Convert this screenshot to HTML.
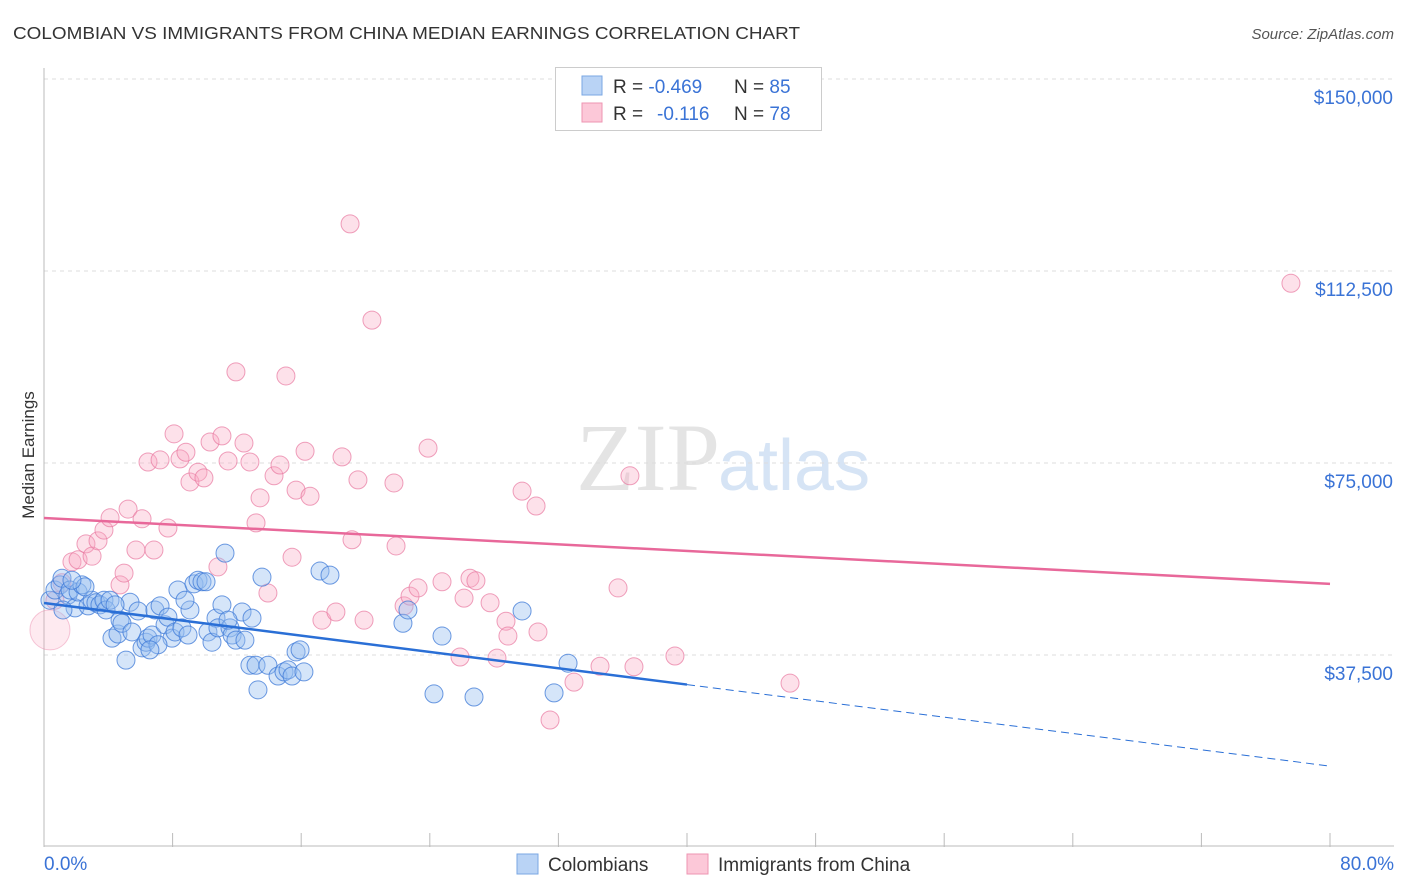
<!DOCTYPE html>
<html><head><meta charset="utf-8"><style>
body{margin:0;background:#fff;font-family:"Liberation Sans",sans-serif;}
svg{display:block}
</style></head><body>
<svg id="chart" width="1406" height="892">
<text x="13" y="39" font-size="17.5" fill="#333" textLength="787" lengthAdjust="spacingAndGlyphs">COLOMBIAN VS IMMIGRANTS FROM CHINA MEDIAN EARNINGS CORRELATION CHART</text>
<text x="1394" y="39" font-size="15" fill="#555" font-style="italic" text-anchor="end">Source: ZipAtlas.com</text>
<text x="720" y="490" font-size="96" fill="#e4e4e4" text-anchor="end" font-family="Liberation Serif">ZIP</text>
<text x="718" y="490" font-size="72" fill="#d6e4f5">atlas</text>
<g id="grid"></g>
<g id="axes"></g>
<g id="pts"></g>
<g id="trend"></g>
<text transform="translate(34,455) rotate(-90)" font-size="17" fill="#333" text-anchor="middle">Median Earnings</text>
<g>
<rect x="555.5" y="67.5" width="266" height="63" fill="#fff" stroke="#ccc"/>
<rect x="582" y="76" width="20" height="19" fill="#b9d3f5" stroke="#7aa7e3"/>
<rect x="582" y="103" width="20" height="19" fill="#fcc8d8" stroke="#ee94b2"/>
<text x="613" y="93" font-size="19" fill="#333">R = <tspan fill="#3a73d6">-0.469</tspan><tspan x="734">N = </tspan><tspan fill="#3a73d6">85</tspan></text>
<text x="613" y="120" font-size="19" fill="#333">R = <tspan x="657" fill="#3a73d6">-0.116</tspan><tspan x="734">N = </tspan><tspan fill="#3a73d6">78</tspan></text>
</g>
<g>
<rect x="517" y="854" width="21" height="20" fill="#b9d3f5" stroke="#7aa7e3"/>
<text x="548" y="871" font-size="19" fill="#333">Colombians</text>
<rect x="687" y="854" width="21" height="20" fill="#fcc8d8" stroke="#ee94b2"/>
<text x="718" y="871" font-size="19" fill="#333">Immigrants from China</text>
</g>
</svg>
<script>
const yTicks=[37500,75000,112500,150000];
const yTickLabels=["$37,500","$75,000","$112,500","$150,000"];
const xTickLabels=["0.0%","80.0%"];
const blueX=[.37,.68,1.0,1.12,1.49,1.62,1.93,2.12,2.36,2.74,2.99,3.23,3.48,3.73,3.86,4.23,4.6,4.73,4.85,5.1,5.35,5.47,5.85,6.1,6.35,6.47,6.72,6.9,7.22,7.53,7.71,7.96,8.15,8.33,8.58,8.96,9.08,9.33,9.58,9.83,10.08,10.2,10.45,10.7,10.82,11.07,11.26,11.57,11.7,11.94,12.32,12.5,12.81,12.94,13.19,13.31,13.56,13.93,14.56,14.93,15.18,15.43,15.68,15.93,16.17,17.17,17.79,22.33,22.64,24.76,24.26,26.75,29.74,31.73,32.6,4.11,4.42,7.09,8.77,1.18,2.55,6.59,11.45,1.74];
const blueY=[48.2,50.2,51.2,52.5,49.2,50.2,46.7,49.8,51.2,47.1,48.2,47.7,47.3,48.2,46.3,40.8,41.6,44.3,43.7,36.5,47.8,42.0,46.1,38.9,40.0,40.8,41.4,46.3,47.1,43.4,44.9,40.8,42.0,50.2,42.8,41.4,46.3,51.4,52.1,51.8,51.8,42.0,40.0,44.7,42.8,47.3,57.4,42.8,41.4,40.4,45.9,40.4,35.5,44.7,35.5,30.7,52.7,35.5,33.4,34.2,34.6,33.4,38.1,38.5,34.2,53.9,53.1,43.7,46.3,41.2,29.9,29.3,46.1,30.1,35.9,48.2,47.3,39.5,48.2,46.3,50.8,38.5,44.3,52.1];
const pinkX=[.37,.68,1.12,1.74,2.12,2.61,2.99,3.36,3.73,4.11,4.73,4.98,5.23,5.72,6.1,6.47,6.84,7.22,7.71,8.09,8.46,8.83,9.08,9.58,9.95,10.33,10.82,11.07,11.45,11.94,12.44,12.81,13.19,13.44,13.93,14.31,14.68,15.05,15.43,15.68,16.24,16.55,17.29,18.16,18.54,19.16,19.53,19.04,20.4,19.91,21.9,21.77,22.4,22.77,23.27,23.89,24.76,25.88,26.13,26.5,26.87,27.75,28.18,28.74,28.86,29.74,30.61,30.73,31.48,32.97,34.59,35.71,36.45,36.7,39.25,46.41,77.57];
const pinkY=[42.4,48.2,51.6,55.7,56.1,59.2,56.8,59.8,61.9,64.3,51.2,53.5,66.0,58.0,64.1,75.2,58.0,75.6,62.3,80.7,75.8,77.1,71.3,73.2,72.1,79.1,54.7,80.3,75.4,92.8,78.9,75.2,63.3,68.2,49.6,72.5,74.6,92.0,56.6,69.7,77.3,68.5,44.3,45.9,76.2,60.0,71.7,121.7,102.9,44.3,58.8,71.1,47.1,49.0,50.6,77.9,51.8,37.1,48.6,52.5,52.0,47.7,36.9,44.1,41.2,69.5,66.6,42.0,24.8,32.2,35.3,50.6,72.5,35.2,37.3,32.0,110.1];
const blueTrend=[47.65,15.8];
const pinkTrend=[64.25,51.4];
const NS="http://www.w3.org/2000/svg";
const X0=44,X1=1330,Y0=847,PXK=192/37.5;
function sx(p){return X0+(p/80)*(X1-X0);}
function sy(k){return Y0-k*PXK;}
function mk(t,a,parent){const e=document.createElementNS(NS,t);for(const k in a)e.setAttribute(k,a[k]);document.getElementById(parent).appendChild(e);return e;}
yTicks.forEach((v,i)=>{
 const y=sy(v/1000);
 const l=mk('line',{x1:44,x2:1394,y1:y,y2:y,stroke:'#ddd','stroke-dasharray':'4,4'},'grid');
 
 
 const t=mk('text',{x:1393,y:y+25,'font-size':19,fill:'#3a73d6','text-anchor':'end'},'axes');
 t.textContent=yTickLabels[i];
 
 
});
let ax=mk('line',{x1:44,x2:44,y1:68,y2:847,stroke:'#bbb'},'axes');


ax=mk('line',{x1:44,x2:1394,y1:846,y2:846,stroke:'#bbb'},'axes');


for(let i=0;i<=10;i++){const x=sx(i*8);const t=mk('line',{x1:x,x2:x,y1:833,y2:847,stroke:'#bbb'},'axes');
 
 }
[[0,44,'start'],[1,1394,'end']].forEach(([i,x,a])=>{const t=mk('text',{x:x,y:870,'font-size':19,fill:'#3a73d6','text-anchor':a},'axes');t.textContent=xTickLabels[i];
 
 });
pinkX.forEach((x,i)=>{const c=mk('circle',{cx:sx(x),cy:sy(pinkY[i]),r:i===0?20:9,fill:i===0?'rgba(250,170,196,0.25)':'rgba(250,170,196,0.35)',stroke:i===0?'rgba(232,120,160,0.4)':'rgba(232,120,160,0.7)','stroke-width':1},'pts');
 
 });
blueX.forEach((x,i)=>{const c=mk('circle',{cx:sx(x),cy:sy(blueY[i]),r:9,fill:'rgba(150,190,240,0.4)',stroke:'rgba(60,120,215,0.75)','stroke-width':1},'pts');
 
 });
function tv(t,p){return t[0]+(t[1]-t[0])*p/80;}
let l=mk('line',{x1:sx(0),y1:sy(tv(blueTrend,0)),x2:sx(40),y2:sy(tv(blueTrend,40)),stroke:'#2a6fd6','stroke-width':2.5},'trend');


l=mk('line',{x1:sx(40),y1:sy(tv(blueTrend,40)),x2:sx(80),y2:sy(tv(blueTrend,80)),stroke:'#2a6fd6','stroke-width':1,'stroke-dasharray':'8,5'},'trend');


l=mk('line',{x1:sx(0),y1:sy(tv(pinkTrend,0)),x2:sx(80),y2:sy(tv(pinkTrend,80)),stroke:'#e8689a','stroke-width':2.5},'trend');


</script>
</body></html>
